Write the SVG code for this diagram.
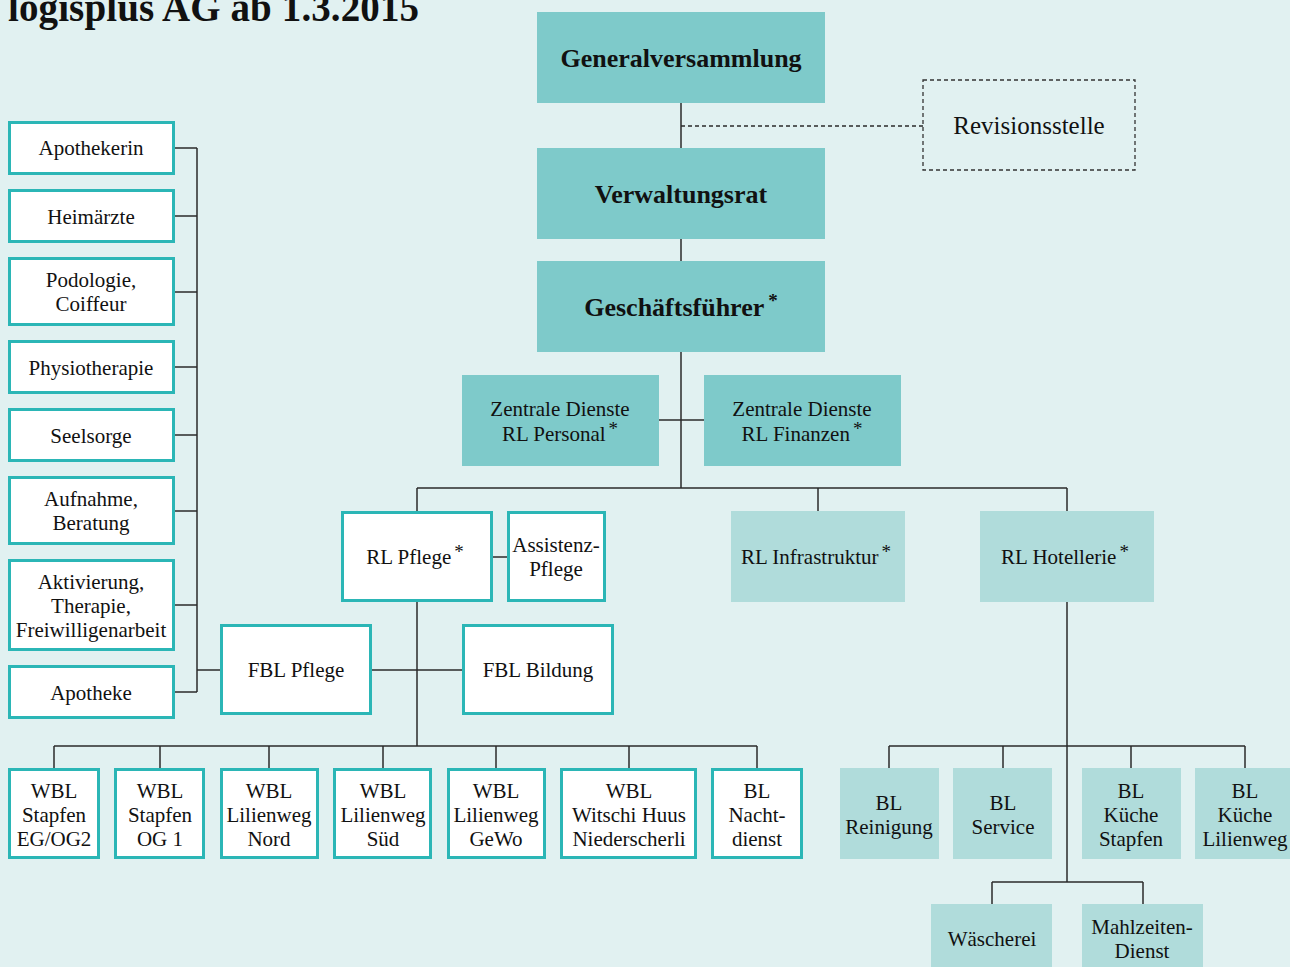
<svg xmlns="http://www.w3.org/2000/svg" width="1290" height="967" viewBox="0 0 1290 967">
<style>
.bg{fill:#e1f1f1}
.dark{fill:#7ecaca}
.light{fill:#b0dcdb}
.white{fill:#ffffff;stroke:#2bb6b6;stroke-width:3}
.dash{fill:none;stroke:#333;stroke-width:1.3;stroke-dasharray:4 3}
.t{font-family:"Liberation Serif","Times New Roman",serif;font-size:21px;fill:#111;text-anchor:middle}
.tb{font-family:"Liberation Serif","Times New Roman",serif;font-size:26px;font-weight:bold;fill:#111;text-anchor:middle}
.tr{font-family:"Liberation Serif","Times New Roman",serif;font-size:25px;fill:#111;text-anchor:middle}
.title{font-family:"Liberation Serif","Times New Roman",serif;font-size:39px;font-weight:bold;fill:#111}
.sup{font-size:19px}
#connectors line{stroke:#2a2a2a;stroke-width:1.5;fill:none}
</style>
<rect class="bg" x="0" y="0" width="1290" height="967"/>
<text class="title" x="8" y="21" textLength="411" lengthAdjust="spacing">logisplus AG ab 1.3.2015</text>

<g id="connectors">
  <line x1="681" y1="103" x2="681" y2="488"/>
  <line x1="681" y1="126" x2="923" y2="126" style="stroke-dasharray:4 3;stroke-width:1.3"/>
  <line x1="659" y1="420" x2="704" y2="420"/>
  <line x1="417" y1="488" x2="1067" y2="488"/>
  <line x1="417" y1="488" x2="417" y2="511"/>
  <line x1="818" y1="488" x2="818" y2="511"/>
  <line x1="1067" y1="488" x2="1067" y2="511"/>
  <line x1="493" y1="557" x2="507" y2="557"/>
  <line x1="417" y1="602" x2="417" y2="746"/>
  <line x1="372" y1="670" x2="462" y2="670"/>
  <line x1="197" y1="670" x2="220" y2="670"/>
  <line x1="197" y1="148" x2="197" y2="692"/>
  <line x1="175" y1="148" x2="197" y2="148"/>
  <line x1="175" y1="216" x2="197" y2="216"/>
  <line x1="175" y1="292" x2="197" y2="292"/>
  <line x1="175" y1="367" x2="197" y2="367"/>
  <line x1="175" y1="435" x2="197" y2="435"/>
  <line x1="175" y1="511" x2="197" y2="511"/>
  <line x1="175" y1="605" x2="197" y2="605"/>
  <line x1="175" y1="692" x2="197" y2="692"/>
  <line x1="54" y1="746" x2="757" y2="746"/>
  <line x1="54" y1="746" x2="54" y2="768"/>
  <line x1="160" y1="746" x2="160" y2="768"/>
  <line x1="269" y1="746" x2="269" y2="768"/>
  <line x1="383" y1="746" x2="383" y2="768"/>
  <line x1="496" y1="746" x2="496" y2="768"/>
  <line x1="629" y1="746" x2="629" y2="768"/>
  <line x1="757" y1="746" x2="757" y2="768"/>
  <line x1="1067" y1="602" x2="1067" y2="882"/>
  <line x1="889" y1="746" x2="1245" y2="746"/>
  <line x1="889" y1="746" x2="889" y2="768"/>
  <line x1="1003" y1="746" x2="1003" y2="768"/>
  <line x1="1131" y1="746" x2="1131" y2="768"/>
  <line x1="1245" y1="746" x2="1245" y2="768"/>
  <line x1="992" y1="882" x2="1143" y2="882"/>
  <line x1="992" y1="882" x2="992" y2="904"/>
  <line x1="1143" y1="882" x2="1143" y2="904"/>
</g>

<g id="generalversammlung"><rect class="dark" x="537" y="12" width="288" height="91"/><text class="tb" x="681" y="67">Generalversammlung</text></g>
<g id="revisionsstelle"><rect class="dash" x="923" y="80" width="212" height="90"/><text class="tr" x="1029" y="134">Revisionsstelle</text></g>
<g id="verwaltungsrat"><rect class="dark" x="537" y="148" width="288" height="91"/><text class="tb" x="681" y="203">Verwaltungsrat</text></g>
<g id="geschaeftsfuehrer"><rect class="dark" x="537" y="261" width="288" height="91"/><text class="tb" x="681" y="316">Geschäftsführer<tspan class="sup" dx="4" dy="-9">*</tspan></text></g>

<g id="zd-personal"><rect class="dark" x="462" y="375" width="197" height="91"/><text class="t" x="560" y="416">Zentrale Dienste</text><text class="t" x="560" y="441">RL Personal<tspan class="sup" dx="3" dy="-6">*</tspan></text></g>
<g id="zd-finanzen"><rect class="dark" x="704" y="375" width="197" height="91"/><text class="t" x="802" y="416">Zentrale Dienste</text><text class="t" x="802" y="441">RL Finanzen<tspan class="sup" dx="3" dy="-6">*</tspan></text></g>

<g id="rl-pflege"><rect class="white" x="342.5" y="512.5" width="149" height="88"/><text class="t" x="415" y="564">RL Pflege<tspan class="sup" dx="3" dy="-6">*</tspan></text></g>
<g id="assistenz-pflege"><rect class="white" x="508.5" y="512.5" width="96" height="88"/><text class="t" x="556" y="552">Assistenz-</text><text class="t" x="556" y="576">Pflege</text></g>
<g id="rl-infrastruktur"><rect class="light" x="731" y="511" width="174" height="91"/><text class="t" x="816" y="564">RL Infrastruktur<tspan class="sup" dx="3" dy="-6">*</tspan></text></g>
<g id="rl-hotellerie"><rect class="light" x="980" y="511" width="174" height="91"/><text class="t" x="1065" y="564">RL Hotellerie<tspan class="sup" dx="3" dy="-6">*</tspan></text></g>

<g id="fbl-pflege"><rect class="white" x="221.5" y="625.5" width="149" height="88"/><text class="t" x="296" y="677">FBL Pflege</text></g>
<g id="fbl-bildung"><rect class="white" x="463.5" y="625.5" width="149" height="88"/><text class="t" x="538" y="677">FBL Bildung</text></g>

<g id="apothekerin"><rect class="white" x="9.5" y="122.5" width="164" height="51"/><text class="t" x="91" y="155">Apothekerin</text></g>
<g id="heimaerzte"><rect class="white" x="9.5" y="190.5" width="164" height="51"/><text class="t" x="91" y="224">Heimärzte</text></g>
<g id="podologie"><rect class="white" x="9.5" y="258.5" width="164" height="66"/><text class="t" x="91" y="287">Podologie,</text><text class="t" x="91" y="311">Coiffeur</text></g>
<g id="physiotherapie"><rect class="white" x="9.5" y="341.5" width="164" height="51"/><text class="t" x="91" y="375">Physiotherapie</text></g>
<g id="seelsorge"><rect class="white" x="9.5" y="409.5" width="164" height="51"/><text class="t" x="91" y="443">Seelsorge</text></g>
<g id="aufnahme"><rect class="white" x="9.5" y="477.5" width="164" height="66"/><text class="t" x="91" y="506">Aufnahme,</text><text class="t" x="91" y="530">Beratung</text></g>
<g id="aktivierung"><rect class="white" x="9.5" y="560.5" width="164" height="89"/><text class="t" x="91" y="589">Aktivierung,</text><text class="t" x="91" y="613">Therapie,</text><text class="t" x="91" y="637">Freiwilligenarbeit</text></g>
<g id="apotheke"><rect class="white" x="9.5" y="666.5" width="164" height="51"/><text class="t" x="91" y="700">Apotheke</text></g>

<g id="wbl-stapfen-eg"><rect class="white" x="9.5" y="769.5" width="89" height="88"/><text class="t" x="54" y="798">WBL</text><text class="t" x="54" y="822">Stapfen</text><text class="t" x="54" y="846">EG/OG2</text></g>
<g id="wbl-stapfen-og1"><rect class="white" x="115.5" y="769.5" width="88" height="88"/><text class="t" x="160" y="798">WBL</text><text class="t" x="160" y="822">Stapfen</text><text class="t" x="160" y="846">OG 1</text></g>
<g id="wbl-lilienweg-nord"><rect class="white" x="221.5" y="769.5" width="96" height="88"/><text class="t" x="269" y="798">WBL</text><text class="t" x="269" y="822">Lilienweg</text><text class="t" x="269" y="846">Nord</text></g>
<g id="wbl-lilienweg-sued"><rect class="white" x="334.5" y="769.5" width="96" height="88"/><text class="t" x="383" y="798">WBL</text><text class="t" x="383" y="822">Lilienweg</text><text class="t" x="383" y="846">Süd</text></g>
<g id="wbl-lilienweg-gewo"><rect class="white" x="448.5" y="769.5" width="96" height="88"/><text class="t" x="496" y="798">WBL</text><text class="t" x="496" y="822">Lilienweg</text><text class="t" x="496" y="846">GeWo</text></g>
<g id="wbl-witschi"><rect class="white" x="561.5" y="769.5" width="134" height="88"/><text class="t" x="629" y="798">WBL</text><text class="t" x="629" y="822">Witschi Huus</text><text class="t" x="629" y="846">Niederscherli</text></g>
<g id="bl-nachtdienst"><rect class="white" x="712.5" y="769.5" width="89" height="88"/><text class="t" x="757" y="798">BL</text><text class="t" x="757" y="822">Nacht-</text><text class="t" x="757" y="846">dienst</text></g>

<g id="bl-reinigung"><rect class="light" x="840" y="768" width="99" height="91"/><text class="t" x="889" y="810">BL</text><text class="t" x="889" y="834">Reinigung</text></g>
<g id="bl-service"><rect class="light" x="953" y="768" width="99" height="91"/><text class="t" x="1003" y="810">BL</text><text class="t" x="1003" y="834">Service</text></g>
<g id="bl-kueche-stapfen"><rect class="light" x="1082" y="768" width="99" height="91"/><text class="t" x="1131" y="798">BL</text><text class="t" x="1131" y="822">Küche</text><text class="t" x="1131" y="846">Stapfen</text></g>
<g id="bl-kueche-lilienweg"><rect class="light" x="1195" y="768" width="100" height="91"/><text class="t" x="1245" y="798">BL</text><text class="t" x="1245" y="822">Küche</text><text class="t" x="1245" y="846">Lilienweg</text></g>
<g id="waescherei"><rect class="light" x="931" y="904" width="121" height="70"/><text class="t" x="992" y="946">Wäscherei</text></g>
<g id="mahlzeiten"><rect class="light" x="1082" y="904" width="121" height="70"/><text class="t" x="1142" y="934">Mahlzeiten-</text><text class="t" x="1142" y="958">Dienst</text></g>
</svg>
